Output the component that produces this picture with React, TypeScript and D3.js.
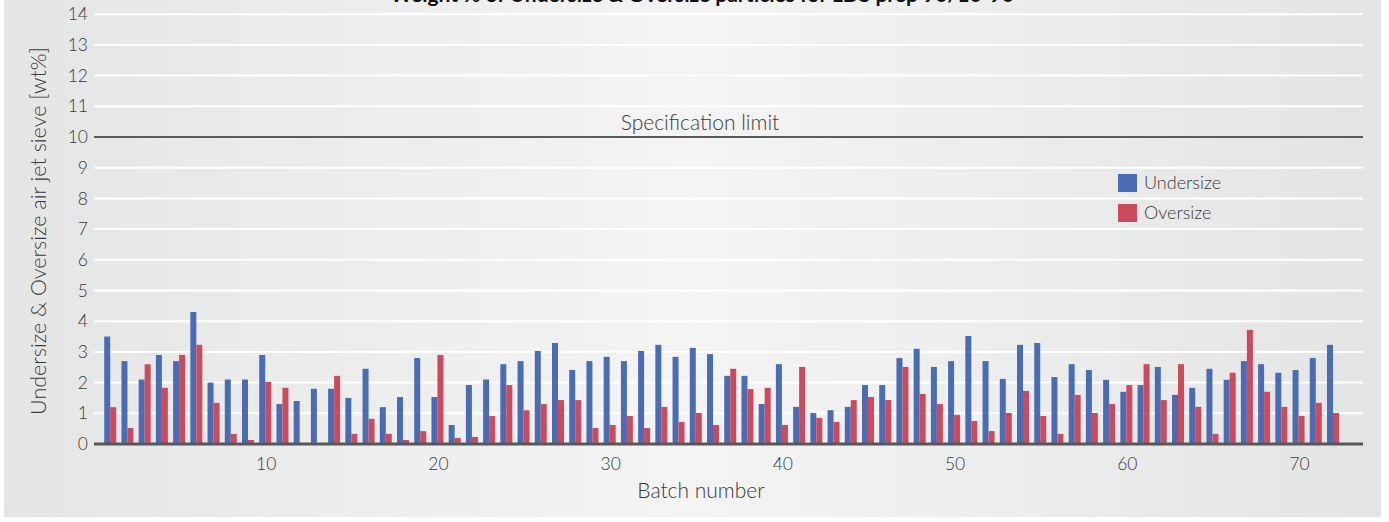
import React from "react";
import * as d3 from "d3";

const batches: number[] = Array.from({ length: 72 }, (_, i) => i + 1);
const undersize: number[] = [
  3.5, 2.7, 2.1, 2.9, 2.7, 4.3, 2.0, 2.1, 2.1, 2.9,
  1.3, 1.4, 1.8, 1.8, 1.5, 2.45, 1.2, 1.53, 2.8, 1.53,
  0.62, 1.92, 2.1, 2.6, 2.7, 3.03, 3.29, 2.41, 2.7, 2.84,
  2.7, 3.03, 3.23, 2.84, 3.13, 2.93, 2.22, 2.22, 1.3, 2.6,
  1.21, 1.01, 1.1, 1.21, 1.92, 1.92, 2.8, 3.1, 2.51, 2.7,
  3.52, 2.7, 2.12, 3.23, 3.29, 2.18, 2.6, 2.41, 2.09, 1.7,
  1.92, 2.51, 1.6, 1.83, 2.45, 2.09, 2.7, 2.6, 2.32, 2.41,
  2.8, 3.23,
];
const oversize: number[] = [
  1.2, 0.52, 2.6, 1.83, 2.9, 3.23, 1.34, 0.33, 0.13, 2.02,
  1.83, 0, 0, 2.22, 0.33, 0.82, 0.33, 0.13, 0.42, 2.9,
  0.2, 0.23, 0.91, 1.92, 1.1, 1.3, 1.43, 1.43, 0.52, 0.62,
  0.91, 0.52, 1.21, 0.72, 1.01, 0.62, 2.45, 1.79, 1.83, 0.62,
  2.51, 0.85, 0.72, 1.43, 1.53, 1.43, 2.51, 1.63, 1.3, 0.95,
  0.75, 0.42, 1.01, 1.73, 0.91, 0.33, 1.6, 1.01, 1.3, 1.92,
  2.6, 1.43, 2.6, 1.21, 0.33, 2.32, 3.72, 1.7, 1.21, 0.91,
  1.34, 1.01,
];
const yTicks: number[] = [0, 1, 2, 3, 4, 5, 6, 7, 8, 9, 10, 11, 12, 13, 14];
const xTicks: number[] = [10, 20, 30, 40, 50, 60, 70];
const specLimit = 10;
const seriesNames: string[] = ["Undersize", "Oversize"];
const seriesColors: string[] = ["#4a6cb5", "#cd4a5d"];
const titleText = "Weight % of Undersize & Oversize particles for LDS prep 90/10-90";

export default function App() {
  const W = 1389;
  const H = 522;
  const x = d3.scaleLinear().domain([0, 73.8]).range([93, 1364]);
  const y = d3.scaleLinear().domain([0, 14]).range([444, 14.2]);
  const barW = 6;
  const font = "Lato, 'Open Sans', sans-serif";
  const textColor = "#3a3a3a";

  return (
    <svg
      width={W}
      height={H}
      style={{ position: "absolute", left: 0, top: 0, display: "block" }}
    >
      <defs>
        <linearGradient id="bg" x1="0" y1="0" x2="1" y2="0">
          <stop offset="0" stopColor="#e4e5e5" />
          <stop offset="0.5" stopColor="#f4f4f4" />
          <stop offset="1" stopColor="#e3e4e4" />
        </linearGradient>
      </defs>
      <rect x={0} y={0} width={W} height={H} fill="#ffffff" />
      <rect x={4} y={0} width={1377} height={517} fill="url(#bg)" />

      {/* title (cut off at the top, as in the reference) */}
      <text
        x={702}
        y={2}
        textAnchor="middle"
        fontFamily={font}
        fontWeight={700}
        fontSize={21}
        fill="#111"
      >
        {titleText}
      </text>

      {/* gridlines */}
      {yTicks.filter((t) => t > 0).map((t) => (
        <line
          key={"g" + t}
          x1={94}
          x2={1363}
          y1={y(t)}
          y2={y(t)}
          stroke="#ffffff"
          strokeWidth={2}
        />
      ))}

      {/* y tick labels */}
      {yTicks.map((t) => (
        <text
          key={"yt" + t}
          x={88}
          y={y(t)}
          dy="0.35em"
          textAnchor="end"
          fontFamily={font}
          fontWeight={300}
          fontSize={17.5}
          fill={textColor}
        >
          {t}
        </text>
      ))}

      {/* bars */}
      {batches.map((b, i) => (
        <g key={"b" + b}>
          <rect
            x={x(b) - barW}
            y={y(undersize[i])}
            width={barW}
            height={y(0) - y(undersize[i])}
            fill={seriesColors[0]}
          />
          <rect
            x={x(b)}
            y={y(oversize[i])}
            width={barW}
            height={y(0) - y(oversize[i])}
            fill={seriesColors[1]}
          />
        </g>
      ))}

      {/* baseline */}
      <line x1={94} x2={1363} y1={y(0)} y2={y(0)} stroke="#555858" strokeWidth={3} />

      {/* specification limit */}
      <line
        x1={94}
        x2={1363}
        y1={y(specLimit)}
        y2={y(specLimit)}
        stroke="#5a5c5c"
        strokeWidth={2}
      />
      <text
        x={700}
        y={y(specLimit) - 7}
        textAnchor="middle"
        fontFamily={font}
        fontWeight={300}
        fontSize={21}
        fill={textColor}
      >
        Specification limit
      </text>

      {/* x tick labels */}
      {xTicks.map((t) => (
        <text
          key={"xt" + t}
          x={x(t) + 1}
          y={470}
          textAnchor="middle"
          fontFamily={font}
          fontWeight={300}
          fontSize={17.5}
          fill={textColor}
        >
          {t}
        </text>
      ))}

      {/* axis titles */}
      <text
        x={701}
        y={498}
        textAnchor="middle"
        fontFamily={font}
        fontWeight={300}
        fontSize={21}
        fill={textColor}
      >
        Batch number
      </text>
      <text
        transform={`translate(46, ${231}) rotate(-90)`}
        textAnchor="middle"
        fontFamily={font}
        fontWeight={300}
        fontSize={21.5}
        fill={textColor}
      >
        Undersize &amp; Oversize air jet sieve [wt%]
      </text>

      {/* legend */}
      {seriesNames.map((n, i) => (
        <g key={"l" + n} transform={`translate(1118, ${174 + i * 30})`}>
          <rect x={0} y={0} width={19} height={18} fill={seriesColors[i]} />
          <text
            x={26}
            y={9}
            dy="0.35em"
            fontFamily={font}
            fontWeight={300}
            fontSize={18}
            fill={textColor}
          >
            {n}
          </text>
        </g>
      ))}
    </svg>
  );
}
